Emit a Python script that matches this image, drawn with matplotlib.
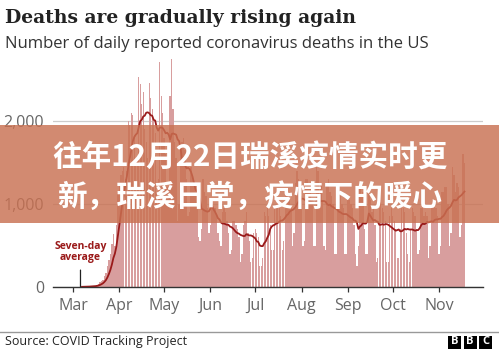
import matplotlib
matplotlib.use("Agg")
import matplotlib.pyplot as plt
from matplotlib.patches import Rectangle
import numpy as np
import pandas as pd

# daily reported deaths from 1 March 2020, one row per week (Sun..Sat)
start_date = "2020-03-01"
daily_deaths = [
    1, 1, 3, 2, 2, 3, 3,
    4, 5, 7, 6, 9, 10, 12,
    12, 18, 25, 40, 55, 70, 90,
    130, 170, 250, 330, 400, 520, 640,
    500, 750, 1150, 1250, 1350, 1400, 1450,
    1300, 1400, 2000, 1950, 2100, 2070, 1830,
    1500, 1520, 2530, 2450, 2200, 2350, 1900,
    1750, 1550, 2460, 2280, 2150, 2000, 1850,
    1150, 1300, 2710, 2300, 2100, 1800, 1600,
    1200, 1150, 2300, 2750, 2150, 1750, 1550,
    800, 1000, 1700, 1750, 1800, 1650, 1300,
    850, 900, 1450, 1350, 1250, 1150, 1000,
    600, 550, 700, 1300, 1150, 1100, 950,
    650, 750, 1000, 950, 950, 850, 650,
    550, 500, 900, 950, 900, 800, 650,
    400, 450, 800, 800, 750, 700, 600,
    300, 400, 750, 800, 900, 650, 550,
    300, 350, 650, 700, 650, 600, 250,
    250, 350, 900, 850, 950, 850, 750,
    450, 450, 950, 950, 1000, 950, 850,
    450, 550, 1100, 1150, 1100, 1150, 950,
    500, 650, 1250, 1400, 1300, 1250, 1100,
    500, 550, 1300, 1300, 1250, 1200, 1050,
    500, 500, 1450, 1400, 1100, 1250, 1050,
    500, 450, 1250, 1300, 1150, 1100, 1000,
    400, 400, 1150, 1150, 1100, 1000, 950,
    400, 400, 1050, 1050, 1000, 950, 750,
    400, 250, 500, 1250, 1100, 1150, 700,
    400, 400, 1200, 1050, 900, 950, 750,
    300, 350, 950, 1050, 950, 900, 800,
    300, 300, 850, 950, 850, 800, 700,
    350, 350, 700, 950, 950, 900, 650,
    400, 300, 700, 950, 900, 850, 700,
    400, 450, 950, 1100, 850, 900, 850,
    350, 500, 1000, 1050, 1000, 950, 850,
    400, 500, 1150, 1150, 1200, 1200, 1000,
    500, 650, 1450, 1350, 1150, 1250, 1200,
    600, 750, 1600, 1500,
]

month_starts = ["2020-03-01", "2020-04-01", "2020-05-01", "2020-06-01", "2020-07-01",
                "2020-08-01", "2020-09-01", "2020-10-01", "2020-11-01"]
month_labels = ["Mar", "Apr", "May", "Jun", "Jul", "Aug", "Sep", "Oct", "Nov"]
y_ticks = [0, 1000, 2000]
y_labels = ["0", "1,000", "2,000"]

title = "Deaths are gradually rising again"
subtitle = "Number of daily reported coronavirus deaths in the US"
source = "Source: COVID Tracking Project"
banner_lines = ["往年12月22日瑞溪疫情实时更", "新，瑞溪日常，疫情下的暖心"]

dates = pd.date_range(start_date, periods=len(daily_deaths), freq="D")
deaths = pd.Series(daily_deaths, index=dates)
avg7 = deaths.rolling(7, min_periods=7).mean()

sans = "Open Sans"
W, H = 499, 351
fig = plt.figure(figsize=(W / 100, H / 100), dpi=100)
fig.patch.set_facecolor("white")

ax = fig.add_axes([53 / W, 64 / H, 430 / W, 232.4 / H])
ax.bar(dates, deaths.values, width=0.9, color="#d89e9e", linewidth=0, zorder=2)
ax.plot(avg7.index, avg7.values, color="#9a1a1a", lw=1.3, zorder=3)

day0 = pd.Timestamp(start_date)
ax.set_ylim(0, 2800)
ax.set_xlim(day0 - pd.Timedelta(hours=13.4 * 24), day0 + pd.Timedelta(hours=274.4 * 24))
ax.set_xticks(pd.to_datetime(month_starts))
ax.set_xticklabels(month_labels)
ax.set_yticks(y_ticks)
ax.set_yticklabels(y_labels)
ax.tick_params(axis="x", direction="out", length=3.5, width=0.9, color="#333333",
               pad=4.5, labelsize=11.5, labelcolor="#666666")
ax.tick_params(axis="y", length=0, pad=6.5, labelsize=11.5, labelcolor="#666666")
for lab in ax.get_xticklabels() + ax.get_yticklabels():
    lab.set_fontfamily(sans)
ax.grid(axis="y", color="#cccccc", lw=0.9, zorder=1)
for s in ["top", "right", "left"]:
    ax.spines[s].set_visible(False)
ax.spines["bottom"].set_color("#333333")
ax.spines["bottom"].set_linewidth(1.0)
ax.spines["bottom"].set_zorder(4)

ax.annotate("Seven-day\naverage", xy=(pd.Timestamp("2020-03-06"), 0),
            xytext=(pd.Timestamp("2020-03-06"), 420), ha="center", va="center",
            fontsize=7.5, fontweight="bold", color="#9a1a1a", family=sans,
            linespacing=1.0,
            arrowprops=dict(arrowstyle="-", color="#222222", lw=0.9, shrinkA=3, shrinkB=0))

fig.text(5 / W, 1 - 18 / H, title, fontsize=13.5, fontweight="bold", family="DejaVu Serif",
         color="#222222", va="center", ha="left")
fig.text(5 / W, 1 - 44 / H, subtitle, fontsize=12, family=sans, color="#333333",
         va="center", ha="left")

fig.add_artist(plt.Line2D([0, 1], [1 - 332 / H, 1 - 332 / H], color="#999999", lw=1.0,
                          transform=fig.transFigure))
fig.text(5 / W, 1 - 342 / H, source, fontsize=9, family=sans, color="#222222",
         va="center", ha="left")
for i, letter in enumerate("BBC"):
    x0 = (448 + i * 15.5) / W
    fig.add_artist(Rectangle((x0, 1 - 348.5 / H), 13 / W, 13 / H, transform=fig.transFigure,
                             facecolor="black", edgecolor="none"))
    fig.text(x0 + 6.5 / W, 1 - 342 / H, letter, fontsize=8, fontweight="bold", family=sans,
             color="white", ha="center", va="center")

# semi-transparent banner across the chart
fig.add_artist(Rectangle((0, 1 - 223 / H), 1, 98 / H, transform=fig.transFigure,
                         facecolor="#c97152", alpha=0.82, edgecolor="none", zorder=10))
cjk = ["Noto Sans CJK SC", "DejaVu Sans"]
fig.text(0.5, 1 - 158 / H, banner_lines[0], fontsize=21.3, fontweight="bold", family=cjk,
         color="white", ha="center", va="center", zorder=11)
fig.text(0.5, 1 - 196.5 / H, banner_lines[1], fontsize=21.3, fontweight="bold", family=cjk,
         color="white", ha="center", va="center", zorder=11)

fig.savefig("out.png", dpi=100)
